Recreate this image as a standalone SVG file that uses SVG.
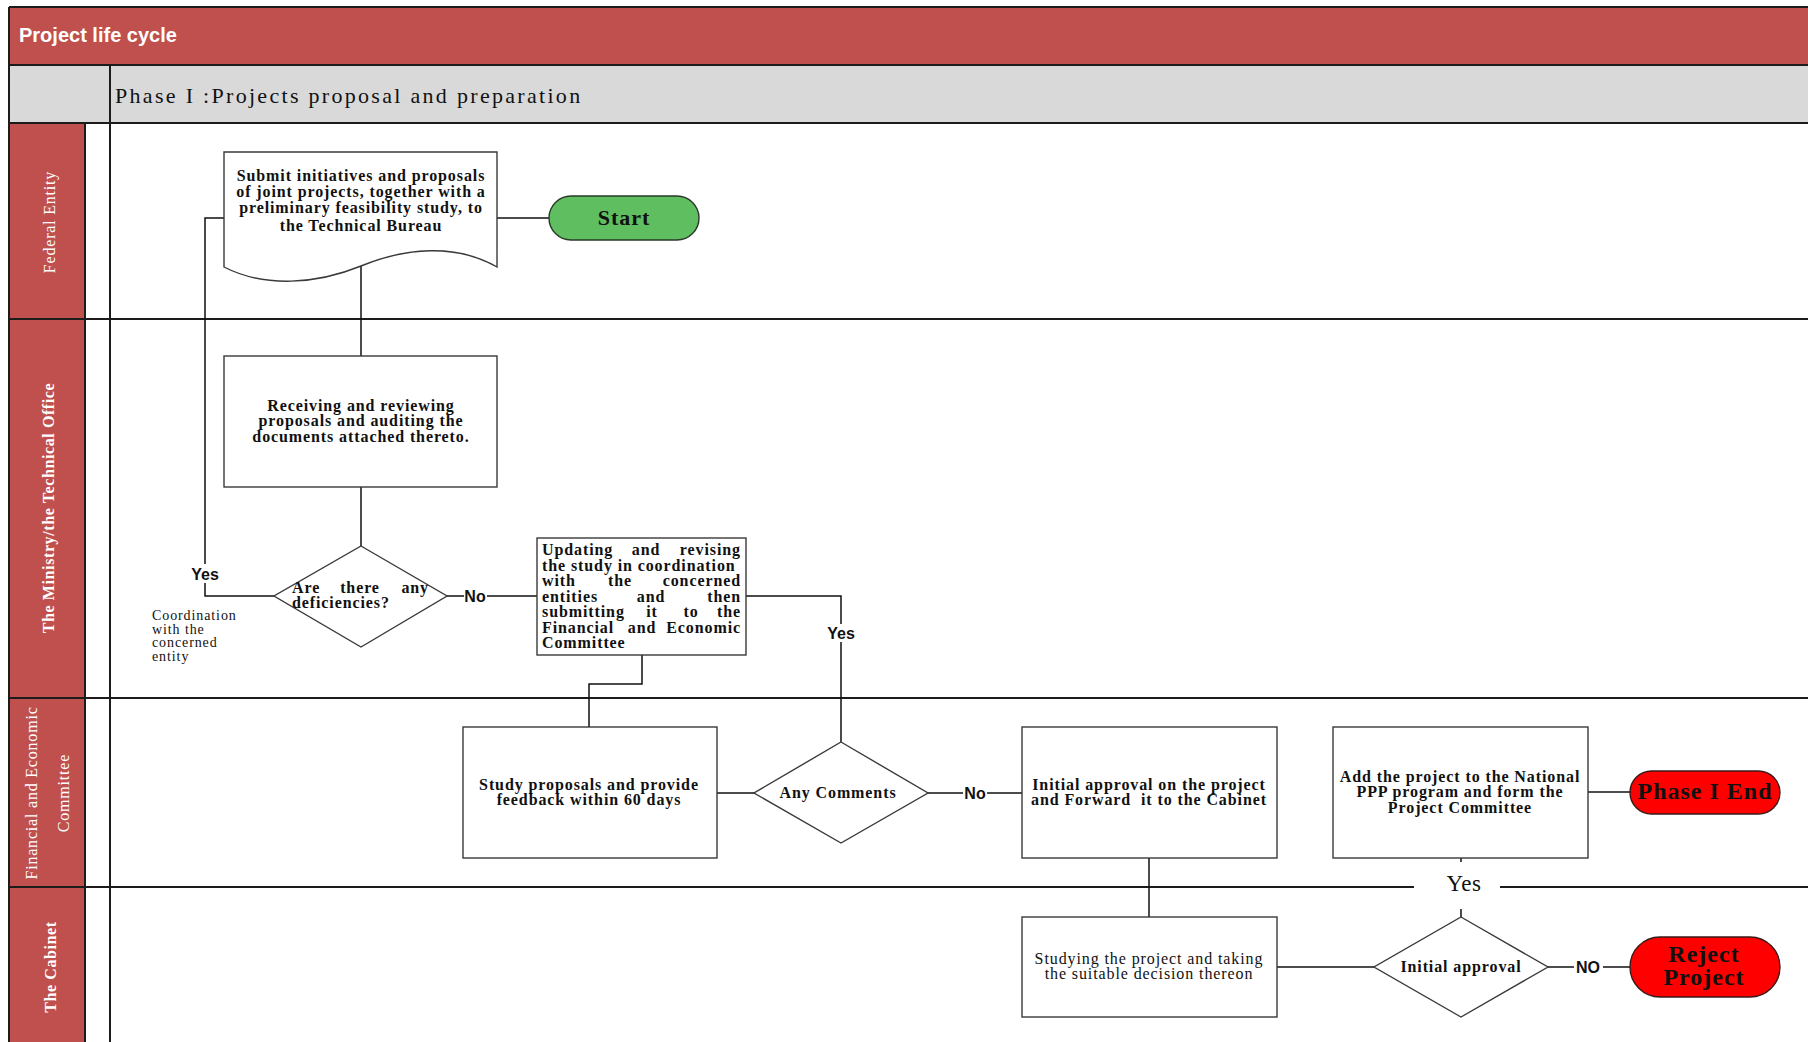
<svg xmlns="http://www.w3.org/2000/svg" width="1808" height="1042" viewBox="0 0 1808 1042">
<defs>
<style>
.frame{stroke:#1c1c1c;stroke-width:2;fill:none}
.box{fill:#fff;stroke:#3a3a3a;stroke-width:1.4}
.conn{fill:none;stroke:#111;stroke-width:1.5}
.t{font-family:"Liberation Serif",serif;font-weight:bold;font-size:16px;letter-spacing:.9px;fill:#111;text-anchor:middle}
.r{font-weight:normal}
.s{text-anchor:start}
.e{text-anchor:end}
.big{font-size:24px;letter-spacing:1px}
.note{font-weight:normal;font-size:14px;text-anchor:start}
.lbl{font-family:"Liberation Sans",Arial,sans-serif;font-weight:bold;font-size:16px;fill:#111;text-anchor:middle}
.lane{font-family:"Liberation Serif",serif;font-size:16px;letter-spacing:.8px;fill:#fff;text-anchor:middle;dominant-baseline:central}
.laneb{font-weight:bold;letter-spacing:.6px}
.bg{fill:#fff}
.pillR{fill:#FF0000;stroke:#3a1a1a;stroke-width:1.4}
</style>
</defs>
<rect x="0" y="0" width="1808" height="1042" fill="#fff"/>
<g id="frame">
<rect x="9" y="7" width="1800" height="58" fill="#C0504D"/>
<rect x="9" y="65" width="1800" height="58" fill="#D9D9D9"/>
<rect x="9" y="123" width="76" height="919" fill="#C0504D"/>
<path class="frame" d="M9,7H1808M9,65H1808M9,123H1808M9,319H1808M9,698H1808M9,887H1414M1500,887H1808M9,7V1042M110,65V1042M85,123V1042"/>
<text x="19" y="42" font-family="'Liberation Sans',Arial,sans-serif" font-weight="bold" font-size="20" fill="#fff">Project life cycle</text>
<text x="115" y="103" font-family="'Liberation Serif',serif" font-size="22" letter-spacing="2.3" fill="#111">Phase I :Projects proposal and preparation</text>
</g>
<g id="lanes">
<text class="lane" transform="translate(49,222) rotate(-90)">Federal Entity</text>
<text class="lane laneb" transform="translate(48,508) rotate(-90)">The Ministry/the Technical Office</text>
<text class="lane" transform="translate(31,793) rotate(-90)">Financial and Economic</text>
<text class="lane" transform="translate(63,793) rotate(-90)">Committee</text>
<text class="lane laneb" transform="translate(50,967) rotate(-90)">The Cabinet</text>
</g>
<g id="connectors">
<path class="conn" d="M224,218H205V596H274"/>
<path class="conn" d="M497,218H549"/>
<path class="conn" d="M361,266V356"/>
<path class="conn" d="M361,487V546"/>
<path class="conn" d="M447,596H537"/>
<path class="conn" d="M746,596H841V742"/>
<path class="conn" d="M642,655V684H589V727"/>
<path class="conn" d="M717,793H754"/>
<path class="conn" d="M928,793H1022"/>
<path class="conn" d="M1149,858V917"/>
<path class="conn" d="M1277,967H1374"/>
<path class="conn" d="M1548,967H1630"/>
<path class="conn" d="M1461,917V858"/>
<path class="conn" d="M1588,792H1630"/>
<rect class="bg" x="190" y="564" width="30" height="19"/>
<text class="lbl" x="205" y="580">Yes</text>
<rect class="bg" x="464" y="587" width="23" height="18"/>
<text class="lbl" x="475" y="602">No</text>
<rect class="bg" x="825" y="624" width="32" height="18"/>
<text class="lbl" x="841" y="639">Yes</text>
<rect class="bg" x="963" y="784" width="24" height="18"/>
<text class="lbl" x="975" y="799">No</text>
<rect class="bg" x="1574" y="958" width="29" height="18"/>
<text class="lbl" x="1588" y="973">NO</text>
<rect class="bg" x="1414" y="862" width="86" height="47"/>
<text x="1464" y="891" font-family="'Liberation Serif',serif" font-size="23" letter-spacing=".5" fill="#111" text-anchor="middle">Yes</text>
</g>
<g id="n-submit">
<path class="box" d="M224,152H497V267C455,243 405,248 361,266C317,284 265,288 224,267Z"/>
<text class="t" x="361" y="181">Submit initiatives and proposals</text>
<text class="t" x="361" y="197">of joint projects, together with a</text>
<text class="t" x="361" y="213">preliminary feasibility study, to</text>
<text class="t" x="361" y="231">the Technical Bureau</text>
</g>
<g id="n-start">
<rect x="549" y="196" width="150" height="44" rx="22" fill="#5FBE5F" stroke="#2a3a2a" stroke-width="1.4"/>
<text class="t" x="624" y="225" style="font-size:22px;letter-spacing:1px">Start</text>
</g>
<g id="n-receive">
<rect class="box" x="224" y="356" width="273" height="131"/>
<text class="t" x="361" y="411">Receiving and reviewing</text>
<text class="t" x="361" y="426">proposals and auditing the</text>
<text class="t" x="361" y="442">documents attached thereto.</text>
</g>
<g id="n-deficiencies">
<path class="box" d="M361,546L447,596L361,647L274,596Z"/>
<text class="t s" x="292" y="593">Are</text>
<text class="t" x="360" y="593">there</text>
<text class="t e" x="429" y="593">any</text>
<text class="t s" x="292" y="608">deficiencies?</text>
</g>
<g id="n-coord-note">
<text class="t note" x="152" y="620">Coordination</text>
<text class="t note" x="152" y="634">with the</text>
<text class="t note" x="152" y="647">concerned</text>
<text class="t note" x="152" y="661">entity</text>
</g>
<g id="n-update">
<rect class="box" x="537" y="538" width="209" height="117"/>
<text class="t s" x="542" y="555">Updating</text><text class="t" x="646" y="555">and</text><text class="t e" x="741" y="555">revising</text>
<text class="t s" x="542" y="570.5">the study in coordination</text>
<text class="t s" x="542" y="586">with</text><text class="t" x="620" y="586">the</text><text class="t e" x="741" y="586">concerned</text>
<text class="t s" x="542" y="601.5">entities</text><text class="t" x="651" y="601.5">and</text><text class="t e" x="741" y="601.5">then</text>
<text class="t s" x="542" y="617">submitting</text><text class="t" x="652" y="617">it</text><text class="t" x="691" y="617">to</text><text class="t e" x="741" y="617">the</text>
<text class="t s" x="542" y="632.5">Financial</text><text class="t" x="642" y="632.5">and</text><text class="t e" x="741" y="632.5">Economic</text>
<text class="t s" x="542" y="648">Committee</text>
</g>
<g id="n-study">
<rect class="box" x="463" y="727" width="254" height="131"/>
<text class="t" x="589" y="790">Study proposals and provide</text>
<text class="t" x="589" y="805">feedback within 60 days</text>
</g>
<g id="n-comments">
<path class="box" d="M841,742L928,793L841,843L754,793Z"/>
<text class="t" x="838" y="798">Any Comments</text>
</g>
<g id="n-initial">
<rect class="box" x="1022" y="727" width="255" height="131"/>
<text class="t" x="1149" y="790">Initial approval on the project</text>
<text class="t" x="1149" y="805" xml:space="preserve">and Forward  it to the Cabinet</text>
</g>
<g id="n-add">
<rect class="box" x="1333" y="727" width="255" height="131"/>
<text class="t" x="1460" y="782">Add the project to the National</text>
<text class="t" x="1460" y="797">PPP program and form the</text>
<text class="t" x="1460" y="813">Project Committee</text>
</g>
<g id="n-end">
<rect class="pillR" x="1630" y="771" width="150" height="43" rx="21.5"/>
<text class="t big" x="1705" y="799">Phase I End</text>
</g>
<g id="n-studying">
<rect class="box" x="1022" y="917" width="255" height="100"/>
<text class="t r" x="1149" y="964">Studying the project and taking</text>
<text class="t r" x="1149" y="979">the suitable decision thereon</text>
</g>
<g id="n-approval">
<path class="box" d="M1461,917L1548,967L1461,1017L1374,967Z"/>
<text class="t" x="1461" y="972">Initial approval</text>
</g>
<g id="n-reject">
<rect class="pillR" x="1630" y="937" width="150" height="60" rx="30"/>
<text class="t big" x="1704" y="962">Reject</text>
<text class="t big" x="1704" y="985">Project</text>
</g>
</svg>
